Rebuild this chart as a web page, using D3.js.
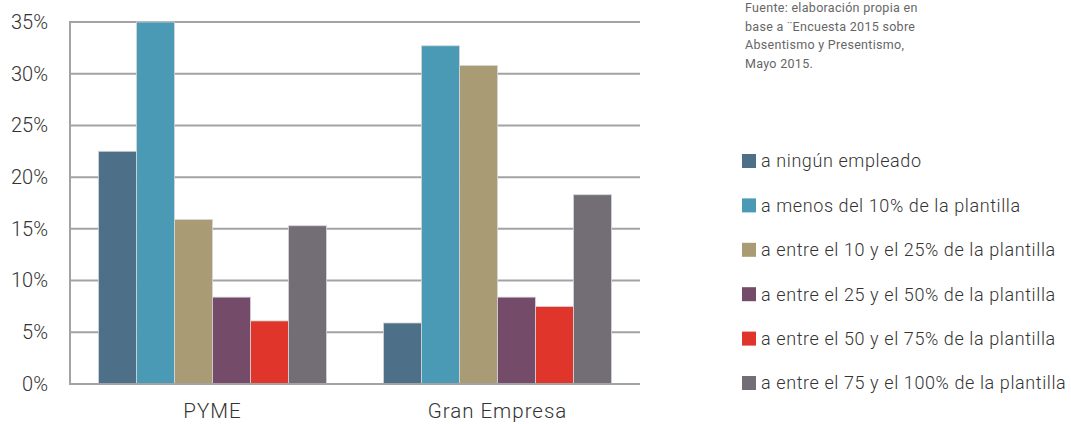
<!DOCTYPE html>
<html>
<head>
<meta charset="utf-8">
<script src="https://cdn.jsdelivr.net/npm/d3@7"></script>
<style>
  html, body { margin: 0; padding: 0; background: #fff; }
  svg { display: block; }
  text { font-family: Roboto, "Open Sans", sans-serif; }
</style>
</head>
<body>
<svg id="chart" width="1071" height="424"></svg>
<script>
const categories = ["PYME", "Gran Empresa"];
const seriesNames = [
  "a ningún empleado",
  "a menos del 10% de la plantilla",
  "a entre el 10 y el 25% de la plantilla",
  "a entre el 25 y el 50% de la plantilla",
  "a entre el 50 y el 75% de la plantilla",
  "a entre el 75 y el 100% de la plantilla"
];
const pymeValues = [22.5, 35.0, 15.9, 8.4, 6.1, 15.3];
const granEmpresaValues = [5.9, 32.7, 30.8, 8.4, 7.5, 18.3];
const colors = ["#4d6f87", "#4a9ab5", "#a99c74", "#744c6a", "#e0352b", "#736e75"];
const yTicks = [0, 5, 10, 15, 20, 25, 30, 35];
const sourceLines = [
  "Fuente: elaboración propia en",
  "base a ¨Encuesta 2015 sobre",
  "Absentismo y Presentismo,",
  "Mayo 2015."
];

const valuesByCategory = { "PYME": pymeValues, "Gran Empresa": granEmpresaValues };

const svg = d3.select("#chart");
const mLeft = 70, mRight = 640, mTop = 22, mBottom = 384;

const x0 = d3.scaleBand().domain(categories).range([mLeft, mRight]).paddingInner(0.2).paddingOuter(0.1);
const x1 = d3.scaleBand().domain(seriesNames).range([0, x0.bandwidth()]).padding(0);
const y = d3.scaleLinear().domain([0, 35]).range([mBottom, mTop]);

// gridlines
svg.append("g").selectAll("line").data(yTicks.filter(d => d > 0)).join("line")
  .attr("x1", mLeft).attr("x2", mRight)
  .attr("y1", d => y(d)).attr("y2", d => y(d))
  .attr("stroke", "#a3a3a6").attr("stroke-width", 2);

// bars
const groups = svg.append("g").selectAll("g").data(categories).join("g")
  .attr("transform", d => `translate(${x0(d)},0)`);
groups.selectAll("rect")
  .data(c => valuesByCategory[c].map((v, i) => ({ name: seriesNames[i], v, i })))
  .join("rect")
  .attr("x", d => x1(d.name))
  .attr("width", x1.bandwidth())
  .attr("y", d => y(d.v))
  .attr("height", d => y(0) - y(d.v))
  .attr("fill", d => colors[d.i])
  .attr("stroke", "#d4d6da").attr("stroke-width", 0.8);

// y axis line and baseline
svg.append("line").attr("x1", mLeft).attr("x2", mLeft).attr("y1", mTop - 1).attr("y2", mBottom + 1)
  .attr("stroke", "#a3a3a6").attr("stroke-width", 2);
svg.append("line").attr("x1", mLeft - 1).attr("x2", mRight).attr("y1", mBottom).attr("y2", mBottom)
  .attr("stroke", "#a3a3a6").attr("stroke-width", 2);

// y tick labels
const yAxis = d3.axisLeft(y).tickValues(yTicks).tickFormat(d => d + "%").tickSize(0).tickPadding(22);
const ya = svg.append("g").attr("transform", `translate(${mLeft},0)`).call(yAxis);
ya.select(".domain").remove();
ya.selectAll("text").attr("font-size", 20).attr("font-weight", 300).attr("fill", "#333")
  .style("font-family", "Roboto, sans-serif");

// x labels
const xAxis = d3.axisBottom(x0).tickSize(0).tickPadding(19);
const xa = svg.append("g").attr("transform", `translate(0,${mBottom})`).call(xAxis);
xa.select(".domain").remove();
xa.selectAll("text").attr("font-size", 20.5).attr("font-weight", 300).attr("fill", "#333")
  .attr("letter-spacing", 1)
  .style("font-family", "Roboto, sans-serif");

// source text
svg.append("g").selectAll("text").data(sourceLines).join("text")
  .attr("x", 745).attr("y", (d, i) => 12 + i * 18.5)
  .attr("font-size", 12.5).attr("letter-spacing", 0.3).attr("fill", "#666").text(d => d);

// legend
const lg = svg.append("g").selectAll("g").data(seriesNames).join("g")
  .attr("transform", (d, i) => `translate(742,${161 + i * 44.4})`);
lg.append("rect").attr("x", 0).attr("y", -7).attr("width", 14).attr("height", 14)
  .attr("fill", (d, i) => colors[i]);
lg.append("text").attr("x", 19).attr("y", 0).attr("dy", "0.35em")
  .attr("font-size", 18).attr("letter-spacing", 0.6).attr("font-weight", 300).attr("fill", "#333").text(d => d);
</script>
</body>
</html>
